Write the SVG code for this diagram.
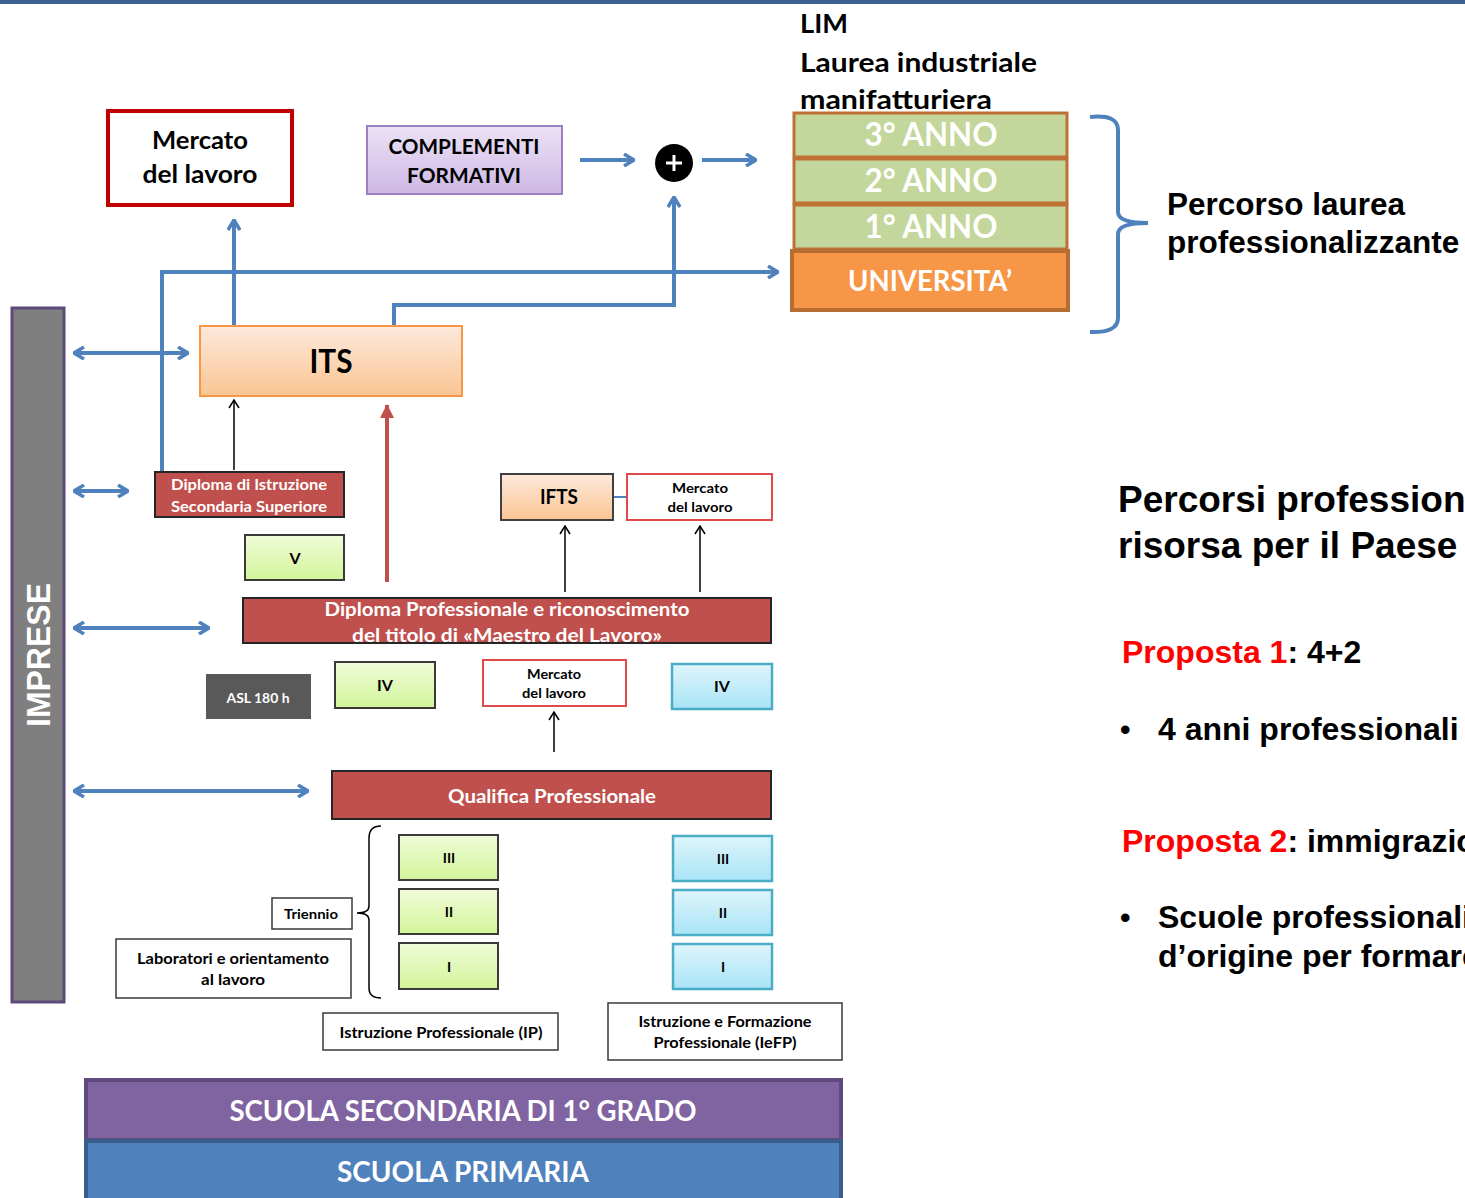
<svg xmlns="http://www.w3.org/2000/svg" width="1465" height="1198" viewBox="0 0 1465 1198">
<defs>
<style>
.c{font-family:Lato,"Open Sans","DejaVu Sans",sans-serif;font-weight:bold;}
.a{font-family:"Liberation Sans",Arial,sans-serif;font-weight:bold;}
.blue{stroke:#4f81bd;stroke-width:4;fill:none;}
.thin{stroke:#000;stroke-width:1.5;fill:none;}
.red{fill:#c0504d;stroke:#262626;stroke-width:2;}
.wt{fill:#fff;}
.t{text-anchor:middle;}
.green{fill:url(#gg);stroke:#3a3a3a;stroke-width:2;}
.cyan{fill:url(#gc);stroke:#4bacc6;stroke-width:2.5;}
.box{fill:#fff;stroke:#3a3a3a;stroke-width:1.5;}
.mk{fill:#fff;stroke:#e04a4a;stroke-width:2;}
.yr{fill:#c3d69b;stroke:#bf7035;stroke-width:3;}
</style>
<linearGradient id="gg" x1="0" y1="0" x2="0" y2="1"><stop offset="0" stop-color="#f0fbd9"/><stop offset="1" stop-color="#d3f59a"/></linearGradient>
<linearGradient id="gc" x1="0" y1="0" x2="0" y2="1"><stop offset="0" stop-color="#dff5fc"/><stop offset="1" stop-color="#a8e4f6"/></linearGradient>
<linearGradient id="go" x1="0" y1="0" x2="0" y2="1"><stop offset="0" stop-color="#fde9dc"/><stop offset="1" stop-color="#fbc593"/></linearGradient>
<linearGradient id="gp" x1="0" y1="0" x2="0" y2="1"><stop offset="0" stop-color="#ece2f6"/><stop offset="1" stop-color="#cdb8e4"/></linearGradient>
<marker id="ab" viewBox="0 0 12 14" refX="11" refY="7" markerWidth="12" markerHeight="14" markerUnits="userSpaceOnUse" orient="auto-start-reverse"><path d="M1,1 L11,7 L1,13" fill="none" stroke="#4f81bd" stroke-width="3.5"/></marker>
<marker id="ak" viewBox="0 0 10 12" refX="9" refY="6" markerWidth="10" markerHeight="12" markerUnits="userSpaceOnUse" orient="auto"><path d="M1,1 L9,6 L1,11" fill="none" stroke="#000" stroke-width="1.5"/></marker>
<marker id="ar" viewBox="0 0 14 14" refX="13" refY="7" markerWidth="14" markerHeight="14" markerUnits="userSpaceOnUse" orient="auto"><path d="M0,0 L14,7 L0,14 Z" fill="#c0504d"/></marker>
</defs>
<rect x="0" y="0" width="1465" height="1198" fill="#fff"/>
<rect x="0" y="0" width="1465" height="4" fill="#3a6391"/>

<g id="connectors">
<path class="blue" d="M580,160 H634" marker-end="url(#ab)"/>
<path class="blue" d="M702,160 H756" marker-end="url(#ab)"/>
<path class="blue" d="M394,326 V305 H674 V197" marker-end="url(#ab)"/>
<path class="blue" d="M234,326 V220" marker-end="url(#ab)"/>
<path class="blue" d="M162,472 V272 H778" marker-end="url(#ab)"/>
<path class="blue" d="M74,353 H188" marker-start="url(#ab)" marker-end="url(#ab)"/>
<path class="blue" d="M74,491 H128" marker-start="url(#ab)" marker-end="url(#ab)"/>
<path class="blue" d="M74,628 H209" marker-start="url(#ab)" marker-end="url(#ab)"/>
<path class="blue" d="M74,791 H308" marker-start="url(#ab)" marker-end="url(#ab)"/>
<path class="thin" d="M234,470 V400" marker-end="url(#ak)"/>
<path d="M387,582 V405" stroke="#c0504d" stroke-width="4" fill="none" marker-end="url(#ar)"/>
<path class="thin" d="M565,592 V526" marker-end="url(#ak)"/>
<path class="thin" d="M700,592 V526" marker-end="url(#ak)"/>
<path class="thin" d="M554,752 V712" marker-end="url(#ak)"/>
<path d="M613,497 H627" stroke="#4f81bd" stroke-width="2"/>
<path class="blue" d="M1090,117 Q1118,114 1118,130 V212 Q1118,223 1148,223 Q1118,223 1118,234 V318 Q1118,333 1090,332"/>
<path class="thin" d="M381,826 Q369,826 369,838 V906 Q369,913 357,913 Q369,913 369,920 V988 Q369,998 381,998"/>
</g>

<g id="mercato-top"><rect x="108" y="111" width="184" height="94" fill="#fff" stroke="#c00000" stroke-width="4"/>
<text class="c t" x="200" y="149" font-size="24" textLength="96" lengthAdjust="spacingAndGlyphs">Mercato</text><text class="c t" x="200" y="183" font-size="24" textLength="115" lengthAdjust="spacingAndGlyphs">del lavoro</text></g>

<g id="complementi"><rect x="367" y="126" width="195" height="68" fill="url(#gp)" stroke="#9b7fc0" stroke-width="2"/>
<text class="c t" x="464" y="154" font-size="21" textLength="151" lengthAdjust="spacingAndGlyphs">COMPLEMENTI</text><text class="c t" x="464" y="183" font-size="21" textLength="114" lengthAdjust="spacingAndGlyphs">FORMATIVI</text></g>

<g id="plus"><circle cx="674" cy="163" r="19" fill="#000"/><path d="M666,163 H682 M674,155 V171" stroke="#fff" stroke-width="3"/></g>

<g id="lim"><text class="c" x="800" y="33" font-size="27" textLength="48" lengthAdjust="spacingAndGlyphs">LIM</text>
<text class="c" x="800" y="72" font-size="27" textLength="237" lengthAdjust="spacingAndGlyphs">Laurea industriale</text>
<text class="c" x="800" y="109" font-size="27" textLength="192" lengthAdjust="spacingAndGlyphs">manifatturiera</text></g>

<g id="anno3"><rect class="yr" x="794" y="113" width="273" height="44"/><text class="c t wt" x="931" y="146" font-size="32" textLength="133" lengthAdjust="spacingAndGlyphs">3° ANNO</text></g>
<g id="anno2"><rect class="yr" x="794" y="159" width="273" height="44"/><text class="c t wt" x="931" y="192" font-size="32" textLength="133" lengthAdjust="spacingAndGlyphs">2° ANNO</text></g>
<g id="anno1"><rect class="yr" x="794" y="205" width="273" height="44"/><text class="c t wt" x="931" y="238" font-size="32" textLength="133" lengthAdjust="spacingAndGlyphs">1° ANNO</text></g>
<g id="universita"><rect x="792" y="251" width="276" height="59" fill="#f79646" stroke="#b66d31" stroke-width="4"/><text class="c t wt" x="930" y="291" font-size="28" textLength="164" lengthAdjust="spacingAndGlyphs">UNIVERSITA’</text></g>

<g id="percorso"><text class="a" x="1167" y="215" font-size="31.5">Percorso laurea</text><text class="a" x="1167" y="253" font-size="31.5">professionalizzante</text></g>

<g id="imprese"><rect x="12" y="308" width="52" height="694" fill="#7f7f7f" stroke="#5f497a" stroke-width="3"/>
<text class="a t wt" transform="translate(50,655) rotate(-90)" font-size="34" textLength="144" lengthAdjust="spacingAndGlyphs">IMPRESE</text></g>

<g id="its"><rect x="200" y="326" width="262" height="70" fill="url(#go)" stroke="#f79646" stroke-width="2"/><text class="c t" x="331" y="373" font-size="32" textLength="43" lengthAdjust="spacingAndGlyphs">ITS</text></g>

<g id="diploma-iss"><rect class="red" x="155" y="472" width="189" height="45"/>
<text class="c t wt" x="249" y="490" font-size="16" textLength="156" lengthAdjust="spacingAndGlyphs">Diploma di Istruzione</text><text class="c t wt" x="249" y="512" font-size="16" textLength="156" lengthAdjust="spacingAndGlyphs">Secondaria Superiore</text></g>

<g id="v"><rect class="green" x="245" y="535" width="99" height="45"/><text class="c t" x="295" y="564" font-size="16">V</text></g>

<g id="ifts"><rect x="501" y="474" width="112" height="46" fill="url(#go)" stroke="#404040" stroke-width="2"/><text class="c t" x="559" y="504" font-size="20" textLength="38" lengthAdjust="spacingAndGlyphs">IFTS</text></g>
<g id="mercato-ifts"><rect class="mk" x="627" y="474" width="145" height="46"/><text class="c t" x="700" y="493" font-size="14" textLength="56" lengthAdjust="spacingAndGlyphs">Mercato</text><text class="c t" x="700" y="512" font-size="14" textLength="65" lengthAdjust="spacingAndGlyphs">del lavoro</text></g>

<g id="diploma-prof"><rect class="red" x="243" y="598" width="528" height="45"/>
<text class="c t wt" x="507" y="616" font-size="19" textLength="365" lengthAdjust="spacingAndGlyphs">Diploma Professionale e riconoscimento</text>
<text class="c t wt" x="507" y="642" font-size="19" textLength="310" lengthAdjust="spacingAndGlyphs">del titolo di «Maestro del Lavoro»</text></g>

<g id="asl"><rect x="206" y="674" width="105" height="45" fill="#595959"/><text class="c t wt" x="258" y="703" font-size="14" textLength="63" lengthAdjust="spacingAndGlyphs">ASL 180 h</text></g>
<g id="iv-ip"><rect class="green" x="335" y="662" width="100" height="46"/><text class="c t" x="385" y="691" font-size="16">IV</text></g>
<g id="mercato-q"><rect class="mk" x="483" y="660" width="143" height="46"/><text class="c t" x="554" y="679" font-size="14" textLength="54" lengthAdjust="spacingAndGlyphs">Mercato</text><text class="c t" x="554" y="698" font-size="14" textLength="64" lengthAdjust="spacingAndGlyphs">del lavoro</text></g>
<g id="iv-iefp"><rect class="cyan" x="672" y="664" width="100" height="45"/><text class="c t" x="722" y="692" font-size="16">IV</text></g>

<g id="qualifica"><rect class="red" x="332" y="771" width="439" height="48"/><text class="c t wt" x="552" y="803" font-size="19" textLength="208" lengthAdjust="spacingAndGlyphs">Qualifica Professionale</text></g>

<g id="ip3"><rect class="green" x="399" y="835" width="99" height="45"/><text class="c t" x="449" y="863" font-size="14">III</text></g>
<g id="ip2"><rect class="green" x="399" y="889" width="99" height="45"/><text class="c t" x="449" y="917" font-size="14">II</text></g>
<g id="ip1"><rect class="green" x="399" y="943" width="99" height="46"/><text class="c t" x="449" y="972" font-size="14">I</text></g>
<g id="iefp3"><rect class="cyan" x="673" y="836" width="99" height="45"/><text class="c t" x="723" y="864" font-size="14">III</text></g>
<g id="iefp2"><rect class="cyan" x="673" y="890" width="99" height="45"/><text class="c t" x="723" y="918" font-size="14">II</text></g>
<g id="iefp1"><rect class="cyan" x="673" y="944" width="99" height="45"/><text class="c t" x="723" y="972" font-size="14">I</text></g>

<g id="triennio"><rect class="box" x="272" y="898" width="80" height="31"/><text class="c t" x="311" y="919" font-size="14" textLength="54" lengthAdjust="spacingAndGlyphs">Triennio</text></g>
<g id="laboratori"><rect class="box" x="116" y="939" width="235" height="59"/><text class="c t" x="233" y="964" font-size="15" textLength="192" lengthAdjust="spacingAndGlyphs">Laboratori e orientamento</text><text class="c t" x="233" y="985" font-size="15" textLength="64" lengthAdjust="spacingAndGlyphs">al lavoro</text></g>
<g id="ip-label"><rect class="box" x="323" y="1013" width="235" height="37"/><text class="c t" x="441" y="1038" font-size="15" textLength="203" lengthAdjust="spacingAndGlyphs">Istruzione Professionale (IP)</text></g>
<g id="iefp-label"><rect class="box" x="608" y="1003" width="234" height="57"/><text class="c t" x="725" y="1027" font-size="15" textLength="173" lengthAdjust="spacingAndGlyphs">Istruzione e Formazione</text><text class="c t" x="725" y="1048" font-size="15" textLength="143" lengthAdjust="spacingAndGlyphs">Professionale (IeFP)</text></g>

<g id="secondaria"><rect x="86" y="1080" width="755" height="60" fill="#8064a2" stroke="#5f4a7e" stroke-width="4"/><text class="c t wt" x="463" y="1121" font-size="28" textLength="467" lengthAdjust="spacingAndGlyphs">SCUOLA SECONDARIA DI 1° GRADO</text></g>
<g id="primaria"><rect x="86" y="1141" width="755" height="62" fill="#4f81bd" stroke="#385d8a" stroke-width="4"/><text class="c t wt" x="463" y="1182" font-size="28" textLength="252" lengthAdjust="spacingAndGlyphs">SCUOLA PRIMARIA</text></g>

<g id="testo-destra">
<text class="a" x="1118" y="512" font-size="37">Percorsi professionali</text>
<text class="a" x="1118" y="558" font-size="37">risorsa per il Paese</text>
<text class="a" x="1122" y="663" font-size="32"><tspan fill="#ff0000">Proposta 1</tspan>: 4+2</text>
<text class="a" x="1120" y="740" font-size="30">•</text><text class="a" x="1158" y="740" font-size="32">4 anni professionali</text>
<text class="a" x="1122" y="852" font-size="32"><tspan fill="#ff0000">Proposta 2</tspan>: immigrazione</text>
<text class="a" x="1120" y="928" font-size="30">•</text><text class="a" x="1158" y="928" font-size="32">Scuole professionali</text>
<text class="a" x="1158" y="967" font-size="32">d’origine per formare</text>
</g>
</svg>
